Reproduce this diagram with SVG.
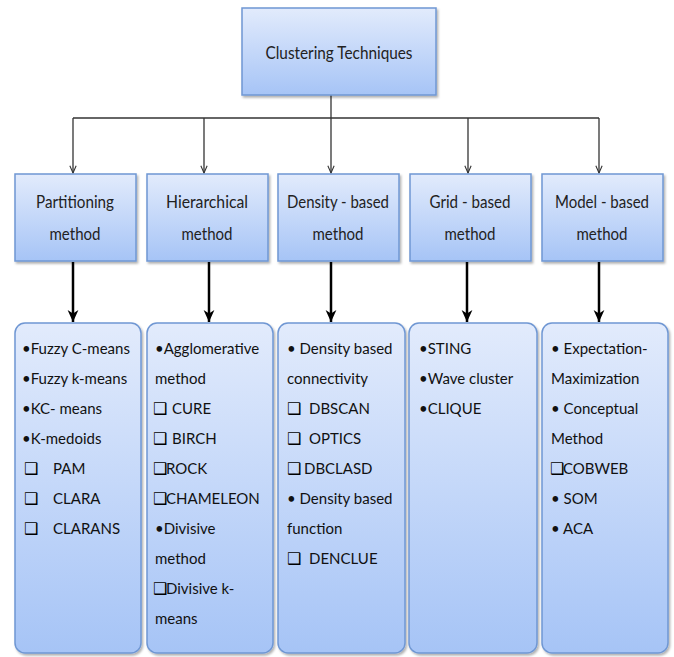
<svg xmlns="http://www.w3.org/2000/svg" width="674" height="657" viewBox="0 0 674 657">
<defs>
<linearGradient id="g" x1="0" y1="0" x2="0" y2="1">
<stop offset="0" stop-color="#e2ebfc"/>
<stop offset="1" stop-color="#a6c4f6"/>
</linearGradient>
<filter id="sh" x="-10%" y="-10%" width="130%" height="130%">
<feDropShadow dx="1.5" dy="2" stdDeviation="1.2" flood-color="#000" flood-opacity="0.3"/>
</filter>
<marker id="thin" viewBox="0 0 10 10" refX="9" refY="5" markerWidth="9" markerHeight="9" markerUnits="userSpaceOnUse" orient="auto">
<path d="M1,1.5 L9,5 L1,8.5" fill="none" stroke="#333" stroke-width="1.2"/>
</marker>
<marker id="thick" viewBox="0 0 10 10" refX="10" refY="5" markerWidth="13" markerHeight="12" markerUnits="userSpaceOnUse" orient="auto">
<path d="M0,0.5 L3,5 L0,9.5 L10,5 Z" fill="#000"/>
</marker>
</defs>
<style>
.box{fill:url(#g);stroke:#6f97d3;stroke-width:1.5;filter:url(#sh)}
.h{font-family:Lato,"Liberation Sans","DejaVu Sans",sans-serif;font-size:17px;fill:#222;text-anchor:middle}
.t{font-family:Lato,"Liberation Sans","DejaVu Sans",sans-serif;font-size:15px;fill:#111}
.cb{font-family:"DejaVu Sans",sans-serif;font-size:16px;font-weight:bold;fill:#000}
.thin{fill:none;stroke:#333;stroke-width:1.3}
.thk{fill:none;stroke:#000;stroke-width:2.5}
</style>
<g id="connectors">
<path class="thin" d="M331,95 V118"/>
<path class="thin" d="M73,118 H599"/>
<path class="thin" d="M73,118 V173" marker-end="url(#thin)"/>
<path class="thin" d="M204,118 V173" marker-end="url(#thin)"/>
<path class="thin" d="M331,118 V173" marker-end="url(#thin)"/>
<path class="thin" d="M468,118 V173" marker-end="url(#thin)"/>
<path class="thin" d="M599,118 V173" marker-end="url(#thin)"/>
<path class="thk" d="M73,262 V322" marker-end="url(#thick)"/>
<path class="thk" d="M209,262 V322" marker-end="url(#thick)"/>
<path class="thk" d="M331,262 V322" marker-end="url(#thick)"/>
<path class="thk" d="M467,262 V322" marker-end="url(#thick)"/>
<path class="thk" d="M599,262 V322" marker-end="url(#thick)"/>
</g>
<g id="root">
<rect class="box" x="242" y="8" width="194" height="87"/>
<text class="h" x="339" y="59" textLength="147" lengthAdjust="spacingAndGlyphs">Clustering Techniques</text>
</g>
<g id="partitioning">
<rect class="box" x="15" y="174" width="121" height="87"/>
<text class="h" x="75" y="208" textLength="78" lengthAdjust="spacingAndGlyphs">Partitioning</text>
<text class="h" x="75" y="240" textLength="51" lengthAdjust="spacingAndGlyphs">method</text>
</g>
<g id="hierarchical">
<rect class="box" x="147" y="174" width="121" height="87"/>
<text class="h" x="207" y="208" textLength="82" lengthAdjust="spacingAndGlyphs">Hierarchical</text>
<text class="h" x="207" y="240" textLength="51" lengthAdjust="spacingAndGlyphs">method</text>
</g>
<g id="density">
<rect class="box" x="278" y="174" width="121" height="87"/>
<text class="h" x="338" y="208" textLength="102" lengthAdjust="spacingAndGlyphs">Density - based</text>
<text class="h" x="338" y="240" textLength="51" lengthAdjust="spacingAndGlyphs">method</text>
</g>
<g id="grid">
<rect class="box" x="410" y="174" width="121" height="87"/>
<text class="h" x="470" y="208" textLength="81" lengthAdjust="spacingAndGlyphs">Grid - based</text>
<text class="h" x="470" y="240" textLength="51" lengthAdjust="spacingAndGlyphs">method</text>
</g>
<g id="model">
<rect class="box" x="542" y="174" width="121" height="87"/>
<text class="h" x="602" y="208" textLength="94" lengthAdjust="spacingAndGlyphs">Model - based</text>
<text class="h" x="602" y="240" textLength="51" lengthAdjust="spacingAndGlyphs">method</text>
</g>
<g id="partitioning-list">
<rect class="box" x="15" y="323" width="126" height="330" rx="10"/>
<text class="t" x="22" y="354">•Fuzzy C-means</text>
<text class="t" x="22" y="384">•Fuzzy k-means</text>
<text class="t" x="22" y="414">•KC- means</text>
<text class="t" x="22" y="444">•K-medoids</text>
<text class="t" y="474"><tspan class="cb" x="24">❑</tspan><tspan x="53">PAM</tspan></text>
<text class="t" y="504"><tspan class="cb" x="24">❑</tspan><tspan x="53">CLARA</tspan></text>
<text class="t" y="534"><tspan class="cb" x="24">❑</tspan><tspan x="53">CLARANS</tspan></text>
</g>
<g id="hierarchical-list">
<rect class="box" x="147" y="323" width="126" height="330" rx="10"/>
<text class="t" x="155" y="354">•Agglomerative</text>
<text class="t" x="155" y="384">method</text>
<text class="t" y="414"><tspan class="cb" x="153">❑</tspan><tspan x="172">CURE</tspan></text>
<text class="t" y="444"><tspan class="cb" x="153">❑</tspan><tspan x="172">BIRCH</tspan></text>
<text class="t" y="474"><tspan class="cb" x="153">❑</tspan><tspan x="166">ROCK</tspan></text>
<text class="t" y="504"><tspan class="cb" x="153">❑</tspan><tspan x="166">CHAMELEON</tspan></text>
<text class="t" x="155" y="534">•Divisive</text>
<text class="t" x="155" y="564">method</text>
<text class="t" y="594"><tspan class="cb" x="153">❑</tspan><tspan x="166">Divisive k-</tspan></text>
<text class="t" x="155" y="624">means</text>
</g>
<g id="density-list">
<rect class="box" x="278" y="323" width="127" height="330" rx="10"/>
<text class="t" x="287" y="354">• Density based</text>
<text class="t" x="287" y="384">connectivity</text>
<text class="t" y="414"><tspan class="cb" x="287">❑</tspan><tspan x="309">DBSCAN</tspan></text>
<text class="t" y="444"><tspan class="cb" x="287">❑</tspan><tspan x="309">OPTICS</tspan></text>
<text class="t" y="474"><tspan class="cb" x="287">❑</tspan><tspan x="304">DBCLASD</tspan></text>
<text class="t" x="287" y="504">• Density based</text>
<text class="t" x="287" y="534">function</text>
<text class="t" y="564"><tspan class="cb" x="287">❑</tspan><tspan x="309">DENCLUE</tspan></text>
</g>
<g id="grid-list">
<rect class="box" x="409" y="323" width="128" height="330" rx="10"/>
<text class="t" x="419" y="354">•STING</text>
<text class="t" x="419" y="384">•Wave cluster</text>
<text class="t" x="419" y="414">•CLIQUE</text>
</g>
<g id="model-list">
<rect class="box" x="542" y="323" width="126" height="330" rx="10"/>
<text class="t" x="551" y="354">• Expectation-</text>
<text class="t" x="551" y="384">Maximization</text>
<text class="t" x="551" y="414">• Conceptual</text>
<text class="t" x="551" y="444">Method</text>
<text class="t" y="474"><tspan class="cb" x="550">❑</tspan><tspan x="563">COBWEB</tspan></text>
<text class="t" x="551" y="504">• SOM</text>
<text class="t" x="551" y="534">• ACA</text>
</g>
</svg>
